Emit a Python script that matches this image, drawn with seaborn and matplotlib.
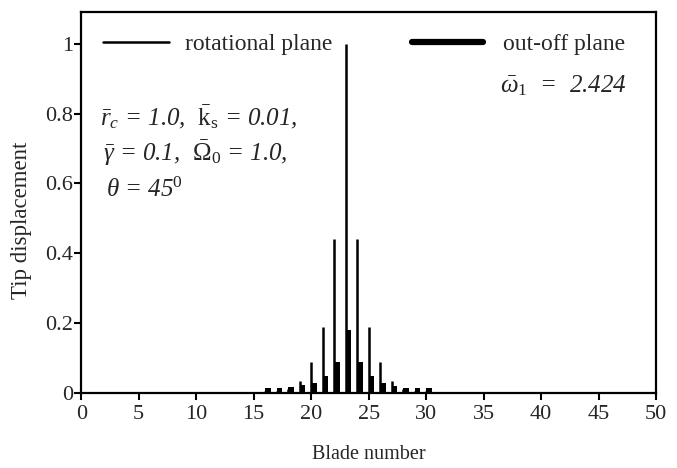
import matplotlib
matplotlib.use('Agg')
import matplotlib.pyplot as plt
import seaborn as sns
import pandas as pd
from matplotlib.lines import Line2D

# blades with non-zero response (all others are ~0)
blades = [16, 17, 18, 19, 20, 21, 22, 23, 24, 25, 26, 27, 28, 29, 30]
rotational = [0.005, 0.006, 0.012, 0.035, 0.09, 0.19, 0.44, 1.0,
              0.44, 0.19, 0.09, 0.035, 0.012, 0.006, 0.005]
out_of_plane = [0.016, 0.016, 0.017, 0.022, 0.028, 0.05, 0.09, 0.18,
                0.09, 0.05, 0.028, 0.02, 0.016, 0.015, 0.015]
x_ticks = list(range(0, 51, 5))
y_ticks = [0, 0.2, 0.4, 0.6, 0.8, 1.0]
y_labels = ['0', '0.2', '0.4', '0.6', '0.8', '1']

sns.set_style('ticks')
plt.rcParams['font.family'] = ['Liberation Serif', 'DejaVu Serif']
plt.rcParams['mathtext.fontset'] = 'custom'
plt.rcParams['mathtext.rm'] = 'Liberation Serif'
plt.rcParams['mathtext.it'] = 'Liberation Serif:italic'

df = pd.DataFrame({'blade': blades, 'rot': rotational, 'oop': out_of_plane})
df['pos'] = df['blade'] + 0.25

fig = plt.figure(figsize=(6.77, 4.68), dpi=100)
ax = fig.add_axes([0.12, 0.16, 0.849, 0.814])

# out-of-plane: thick bars
sns.barplot(data=df, x='pos', y='oop', native_scale=True, width=0.5,
            color='black', saturation=1, errorbar=None, ax=ax, linewidth=0)
# rotational plane: thin lines
ax.vlines(df['blade'], 0, df['rot'], colors='black', lw=1.8)

ax.set_xlim(0, 50)
ax.set_ylim(0, 1.09)
ax.set_xticks(x_ticks)
ax.set_xticklabels([str(t) for t in x_ticks])
ax.set_yticks(y_ticks)
ax.set_yticklabels(y_labels)
ax.tick_params(axis='both', labelsize=16, length=5, width=1.5, color='black')
ax.tick_params(axis='y', pad=1)
ax.set_xlabel('Blade number', fontsize=14.5, labelpad=15)
ax.set_ylabel('Tip displacement', fontsize=16.5)
ax.yaxis.set_label_coords(-0.086, 0.454)
for s in ax.spines.values():
    s.set_visible(True)
    s.set_linewidth(1.6)
    s.set_color('black')

# legends
h1 = Line2D([], [], color='black', lw=1.8)
h2 = Line2D([], [], color='black', lw=4.5)
leg1 = ax.legend([h1], ['rotational plane'], loc='center left',
                 bbox_to_anchor=(0.037, 0.916), frameon=False, fontsize=17,
                 handlelength=2.8, handletextpad=0.7, borderpad=0, borderaxespad=0)
ax.add_artist(leg1)
ax.legend([h2], ['out-off plane'], loc='center left',
          bbox_to_anchor=(0.575, 0.916), frameon=False, fontsize=17,
          handlelength=3.0, handletextpad=0.85, borderpad=0, borderaxespad=0)

# parameter annotations (italic)
ax.text(0.033, 0.724,
        r'$\bar{r}_c$ = 1.0,  $\bar{\mathrm{k}}_{\mathrm{s}}$ = 0.01,',
        transform=ax.transAxes, fontsize=18, style='italic', va='center', ha='left')
ax.text(0.037, 0.630,
        r'$\bar{\gamma}$ = 0.1,  $\bar{\Omega}_{\mathit{0}}$ = 1.0,',
        transform=ax.transAxes, fontsize=18, style='italic', va='center', ha='left')
ax.text(0.043, 0.533, r'$\theta$ = 45$^{\mathit{0}}$',
        transform=ax.transAxes, fontsize=18, style='italic', va='center', ha='left')
ax.text(0.729, 0.808, r'$\bar{\omega}_{\mathit{1}}$  =  2.424',
        transform=ax.transAxes, fontsize=18, style='italic', va='center', ha='left')

fig.savefig('out.png', dpi=100)
